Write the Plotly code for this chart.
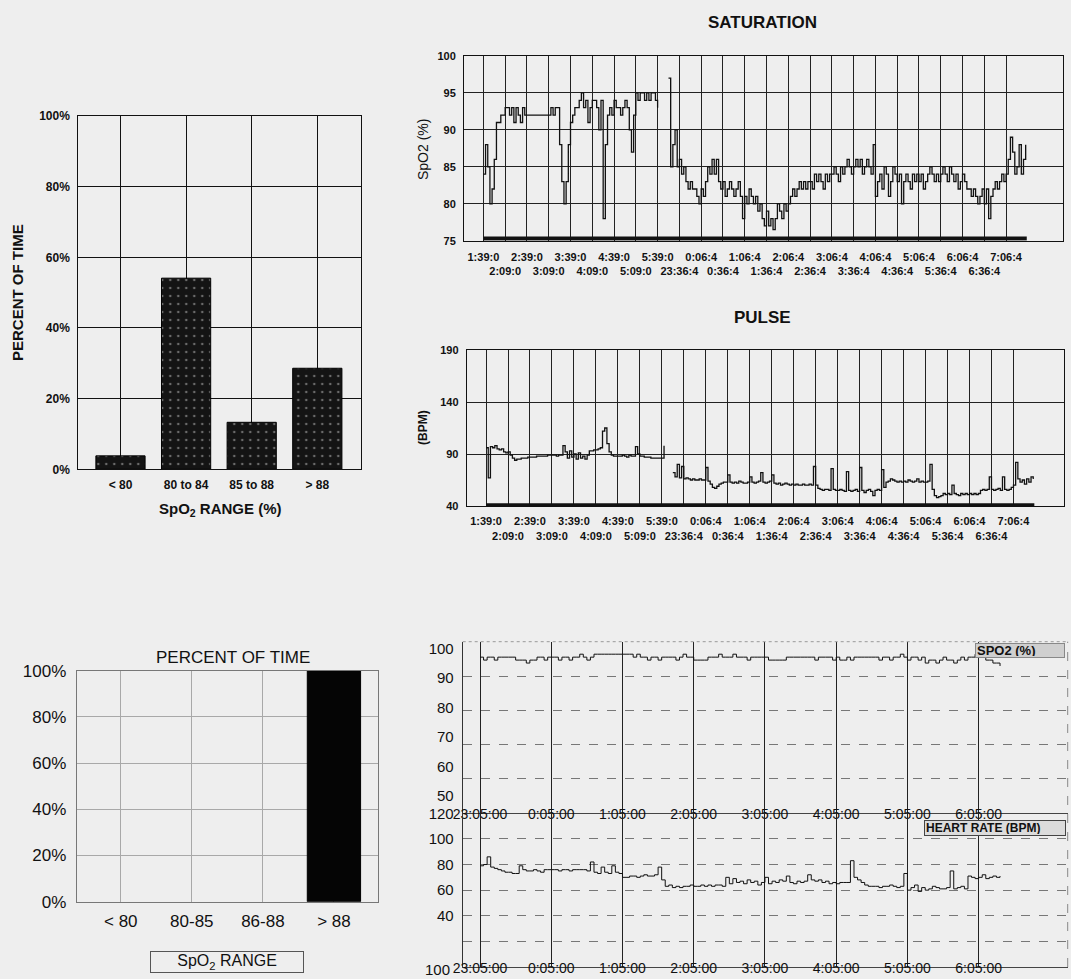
import numpy as np
import plotly.graph_objects as go

W, H = 1071, 979
FONT = "Liberation Sans, Arial, sans-serif"

# ---------------- data ----------------
top_categories = ["< 80", "80 to 84", "85 to 88", "> 88"]
top_percent = [3.8, 54.1, 13.3, 28.6]

bottom_categories = ["< 80", "80-85", "86-88", "> 88"]
bottom_percent = [0, 0, 0, 100]

percent_ticks = [0, 20, 40, 60, 80, 100]
percent_labels = ["0%", "20%", "40%", "60%", "80%", "100%"]

trend_time_labels = ["1:39:0", "2:09:0", "2:39:0", "3:09:0", "3:39:0", "4:09:0", "4:39:0",
                     "5:09:0", "5:39:0", "23:36:4", "0:06:4", "0:36:4", "1:06:4", "1:36:4",
                     "2:06:4", "2:36:4", "3:06:4", "3:36:4", "4:06:4", "4:36:4", "5:06:4",
                     "5:36:4", "6:06:4", "6:36:4", "7:06:4"]

# samples every 3 min (0.1 of a 30-min tick interval)
saturation_spo2 = [
    84, 88, 85, 80, 82, 86, 91, 91, 92, 92,
    93, 93, 92, 93, 91, 93, 92, 91, 93, 92,
    92, 92, 92, 92, 92, 92, 92, 92, 92, 92,
    92, 93, 92, 93, 93, 88, 83, 80, 83, 88,
    91, 92, 93, 93, 94, 95, 93, 94, 91, 93,
    94, 94, 93, 90, 94, 78, 88, 92, 93, 92,
    94, 93, 93, 92, 93, 94, 93, 90, 87, 92,
    95, 94, 95, 95, 94, 95, 94, 95, 95, 94,
    93, None, None, None, None, 97, 85, 88, 90, 85,
    86, 84, 85, 83, 82, 83, 82, 82, 81, 80,
    82, 81, 83, 85, 84, 86, 84, 86, 83, 82,
    83, 81, 82, 83, 82, 81, 82, 83, 81, 78,
    81, 80, 82, 81, 80, 81, 79, 80, 78, 77,
    79, 77, 78, 76.5, 78, 80, 79, 78, 80, 79,
    80, 81, 82, 81, 82, 83, 82, 83, 82, 83,
    83, 82, 84, 83, 84, 83, 82, 84, 83, 84,
    84, 85, 84, 83, 85, 84, 85, 86, 85, 84,
    85, 86, 85, 86, 84, 85, 86, 85, 84, 88,
    81, 83, 84, 82, 85, 84, 81, 83, 85, 84,
    83, 84, 80, 83, 84, 83, 82, 84, 83, 84,
    83, 84, 82, 83, 84, 85, 84, 83, 84, 83,
    84, 85, 84, 83, 85, 84, 83, 84, 82, 83,
    84, 83, 82, 82, 81, 82, 81, 80, 81, 82,
    80, 82, 78, 81, 82, 83, 82, 83, 84, 83,
    84, 86, 89, 87, 84, 85, 88, 84, 86, 88,
]

pulse_bpm = [
    96, 67, 97, 96, 98, 95, 94, 95, 92, 91,
    92, 89, 86, 84, 85, 85, 86, 86, 86, 87,
    87, 87, 87, 88, 88, 88, 88, 88, 89, 89,
    89, 89, 88, 89, 89, 98, 92, 86, 93, 87,
    90, 85, 91, 86, 88, 85, 89, 93, 93, 94,
    94, 95, 96, 112, 115, 100, 92, 89, 88, 88,
    88, 88, 89, 88, 87, 89, 88, 88, 97, 90,
    88, 88, 87, 87, 87, 86, 86, 86, 86, 86,
    86, 98, None, None, None, 72, 68, 80, 67, 78,
    66, 67, 66, 65, 66, 65, 65, 66, 65, 65,
    77, 64, 61, 58, 57, 59, 61, 62, 63, 63,
    70, 63, 62, 63, 62, 64, 63, 62, 62, 63,
    68, 63, 62, 63, 64, 72, 63, 62, 63, 64,
    70, 62, 61, 62, 60, 61, 62, 61, 60, 61,
    60, 61, 60, 60, 61, 60, 60, 61, 60, 78,
    60, 57, 56, 55, 56, 56, 55, 76, 56, 55,
    55, 56, 55, 54, 73, 55, 54, 55, 56, 54,
    77, 55, 53, 55, 56, 54, 50, 55, 56, 55,
    75, 58, 63, 64, 66, 65, 64, 63, 64, 63,
    64, 63, 65, 64, 63, 64, 66, 63, 64, 63,
    63, 64, 80, 56, 50, 48, 49, 50, 52, 51,
    52, 51, 60, 52, 51, 50, 52, 51, 52, 51,
    52, 51, 52, 51, 52, 55, 56, 55, 56, 68,
    56, 55, 56, 57, 55, 68, 56, 55, 56, 58,
    60, 82, 66, 63, 65, 61, 66, 63, 68, 66,
]

recording_span = [0.0, 24.95]          # thick "monitoring" bar along the bottom
sat_bar_level = 75.3
pulse_bar_level = 40.8

overnight_labels = ["23:05:00", "0:05:00", "1:05:00", "2:05:00",
                    "3:05:00", "4:05:00", "5:05:00", "6:05:00"]

# samples every 3 min from 23:05
overnight_spo2 = [
    97, 96, 97, 97, 96, 97, 97, 97, 97, 97,
    96, 96, 96, 95, 96, 96, 97, 97, 96, 97,
    97, 97, 96, 97, 97, 96, 97, 97, 98, 97,
    96, 97, 98, 98, 98, 98, 98, 98, 98, 98,
    98, 98, 98, 97, 98, 97, 97, 96, 97, 97,
    96, 97, 97, 97, 97, 96, 97, 98, 97, 97,
    96, 96, 96, 96, 97, 97, 97, 98, 97, 97,
    97, 98, 97, 97, 97, 96, 97, 97, 97, 97,
    97, 96, 96, 96, 96, 96, 97, 97, 97, 97,
    97, 97, 97, 97, 96, 97, 97, 97, 97, 96,
    97, 96, 96, 97, 96, 97, 97, 97, 97, 97,
    97, 97, 96, 97, 97, 96, 97, 97, 98, 97,
    96, 97, 97, 96, 97, 95, 96, 96, 95, 96,
    97, 96, 96, 95, 96, 97, 96, 97, 97, 98,
    98, 97, 96, 96, 95, 95, 94,
]

overnight_hr = [
    79, 80, 86, 78, 77, 76, 75, 74, 74, 73,
    73, 79, 76, 75, 75, 76, 75, 74, 76, 76,
    76, 76, 75, 76, 76, 75, 76, 76, 76, 76,
    75, 82, 74, 73, 78, 74, 73, 79, 74, 73,
    70, 70, 71, 71, 70, 71, 72, 71, 71, 72,
    78, 68, 63, 64, 62, 63, 62, 63, 63, 64,
    63, 63, 64, 63, 64, 63, 64, 64, 63, 70,
    65, 69, 66, 67, 65, 68, 66, 67, 64, 66,
    70, 65, 67, 66, 68, 67, 71, 66, 65, 67,
    66, 67, 72, 68, 67, 68, 66, 67, 65, 66,
    65, 66, 66, 66, 83, 70, 68, 66, 64, 63,
    63, 63, 62, 63, 63, 64, 63, 62, 63, 73,
    60, 62, 64, 59, 62, 60, 61, 63, 62, 61,
    61, 62, 75, 61, 62, 63, 61, 71, 70, 69,
    70, 72, 69, 70, 71, 70, 71,
]

trend_x = np.arange(len(saturation_spo2)) * 0.1          # in 30-min tick units
pulse_x = np.arange(len(pulse_bpm)) * 0.1
overnight_x = np.arange(len(overnight_spo2)) * 0.05      # hours after 23:05
overnight_hr_x = np.arange(len(overnight_hr)) * 0.05


def xd(a, b):
    return [a / W, b / W]


def yd(top, bottom):
    return [1 - bottom / H, 1 - top / H]


trend_ticktext = [t if i % 2 == 0 else "<br>" + t for i, t in enumerate(trend_time_labels)]

fig = go.Figure()

# ---- top-left bar chart ----
fig.add_trace(go.Bar(
    x=top_categories, y=top_percent, xaxis="x", yaxis="y", width=0.75,
    marker=dict(color="#141414", line=dict(color="#000", width=1),
                pattern=dict(shape=".", fgcolor="#6a6a6a", bgcolor="#141414", size=8, solidity=0.08)),
    showlegend=False, hoverinfo="skip"))

# ---- saturation ----
fig.add_trace(go.Scatter(x=trend_x, y=saturation_spo2, xaxis="x2", yaxis="y2", mode="lines",
                         line=dict(color="#111", width=1.3, shape="hv"), connectgaps=False,
                         showlegend=False))
fig.add_trace(go.Scatter(x=recording_span, y=[sat_bar_level] * 2, xaxis="x2", yaxis="y2", mode="lines",
                         line=dict(color="#111", width=4), showlegend=False))

# ---- pulse ----
fig.add_trace(go.Scatter(x=pulse_x, y=pulse_bpm, xaxis="x3", yaxis="y3", mode="lines",
                         line=dict(color="#111", width=1.3, shape="hv"), connectgaps=False,
                         showlegend=False))
fig.add_trace(go.Scatter(x=recording_span, y=[pulse_bar_level] * 2, xaxis="x3", yaxis="y3", mode="lines",
                         line=dict(color="#111", width=4), showlegend=False))

# ---- bottom-left bar chart ----
fig.add_trace(go.Bar(x=bottom_categories, y=bottom_percent, xaxis="x4", yaxis="y4", width=0.75,
                     marker=dict(color="#050505",
                                 line=dict(color="#000", width=[0 if v == 0 else 1 for v in bottom_percent])),
                     showlegend=False))

# ---- overnight SpO2 ----
fig.add_trace(go.Scatter(x=overnight_x, y=overnight_spo2, xaxis="x5", yaxis="y5", mode="lines",
                         line=dict(color="#111", width=1, shape="hv"), showlegend=False))
fig.add_trace(go.Scatter(x=overnight_x, y=overnight_spo2, xaxis="x5", yaxis="y6", mode="lines",
                         line=dict(width=0), opacity=0, showlegend=False, hoverinfo="skip"))

# ---- overnight heart rate ----
fig.add_trace(go.Scatter(x=overnight_hr_x, y=overnight_hr, xaxis="x6", yaxis="y7", mode="lines",
                         line=dict(color="#111", width=1, shape="hv"), showlegend=False))

bold11 = dict(family=FONT, size=11, color="#111", weight="bold")
bold12 = dict(family=FONT, size=12, color="#111", weight="bold")
reg15 = dict(family=FONT, size=15, color="#111")

common = dict(automargin=False, tickangle=0, ticks="", zeroline=False)
frame_top = dict(showline=True, linecolor="#111", linewidth=1, mirror=True, **common)

fig.update_layout(
    template="none",
    width=W, height=H, autosize=False,
    margin=dict(l=0, r=0, t=0, b=0, pad=0),
    paper_bgcolor="#eeeeee", plot_bgcolor="#eeeeee",
    font=dict(family=FONT, color="#111"),
    bargap=0.25,
    xaxis=dict(domain=xd(78.3, 361), anchor="y", type="category", range=[-0.643, 3.666],
               showgrid=True, gridcolor="#111", gridwidth=1, tickfont=bold12, ticklabelstandoff=4,
               **frame_top),
    yaxis=dict(domain=yd(116, 469.3), anchor="x", range=[0, 100], tickvals=percent_ticks,
               ticktext=percent_labels, showgrid=True, gridcolor="#111", gridwidth=1, tickfont=bold12,
               ticklabelstandoff=5, **frame_top),
    xaxis2=dict(domain=xd(464, 1062.7), anchor="y2", range=[-0.89, 26.6],
                tickvals=list(range(len(trend_time_labels))), ticktext=trend_ticktext,
                showgrid=True, gridcolor="#222", gridwidth=1, tickfont=bold11, ticklabelstandoff=6,
                **frame_top),
    yaxis2=dict(domain=yd(56, 240.7), anchor="x2", range=[75, 100], tickvals=[75, 80, 85, 90, 95, 100],
                showgrid=True, gridcolor="#222", gridwidth=1, tickfont=bold11, ticklabelstandoff=5,
                **frame_top),
    xaxis3=dict(domain=xd(466.7, 1064), anchor="y3", range=[-0.88, 26.3],
                tickvals=list(range(len(trend_time_labels))), ticktext=trend_ticktext,
                showgrid=True, gridcolor="#222", gridwidth=1, tickfont=bold11, ticklabelstandoff=5,
                **frame_top),
    yaxis3=dict(domain=yd(350, 506), anchor="x3", range=[40, 190], tickvals=[40, 90, 140, 190],
                showgrid=True, gridcolor="#222", gridwidth=1, tickfont=bold11, ticklabelstandoff=5,
                **frame_top),
    xaxis4=dict(domain=xd(76.7, 378), anchor="y4", type="category", range=[-0.62, 3.62],
                showgrid=True, gridcolor="#a8a8a8", gridwidth=1, showline=True, linecolor="#777",
                mirror=True, tickfont=dict(family=FONT, size=17, color="#111"), ticklabelstandoff=4,
                **common),
    yaxis4=dict(domain=yd(670.7, 901.7), anchor="x4", range=[0, 100], tickvals=percent_ticks,
                ticktext=percent_labels, showgrid=True, gridcolor="#a8a8a8", gridwidth=1, showline=True,
                linecolor="#777", mirror=True, tickfont=dict(family=FONT, size=17, color="#111"),
                ticklabelstandoff=6, **common),
    xaxis5=dict(domain=xd(462.7, 1067.7), anchor="y5", range=[-0.243, 8.25],
                tickvals=list(range(len(overnight_labels))), ticktext=overnight_labels,
                showgrid=True, gridcolor="#222", gridwidth=1, showline=True, linecolor="#444",
                ticklabelstandoff=-12, tickfont=dict(family=FONT, size=14, color="#111"), **common),
    yaxis5=dict(domain=yd(641.7, 813.3), anchor="x5", range=[44.14, 102.23],
                tickvals=[50, 60, 70, 80, 90, 100], showgrid=False, showline=True, linecolor="#333",
                tickfont=reg15, ticklabelstandoff=5, **common),
    yaxis6=dict(overlaying="y5", anchor="x5", side="left", range=[50, 100], tickvals=[60, 70, 80, 90, 100],
                showticklabels=False, showgrid=True, gridcolor="#777", griddash="dash", gridwidth=1,
                showline=False, **common),
    xaxis6=dict(domain=xd(462.7, 1067.7), anchor="y7", range=[-0.243, 8.25],
                tickvals=list(range(len(overnight_labels))), ticktext=overnight_labels,
                showgrid=True, gridcolor="#222", gridwidth=1, showline=True, linecolor="#444",
                ticklabelstandoff=-12, tickfont=dict(family=FONT, size=14, color="#111"), **common),
    yaxis7=dict(domain=yd(813.3, 967), anchor="x6", range=[0, 120], tickvals=[20, 40, 60, 80, 100, 120],
                ticktext=["", "40", "60", "80", "100", "120"], showgrid=True, gridcolor="#777",
                griddash="dash", gridwidth=1, showline=True, linecolor="#333", tickfont=reg15,
                ticklabelstandoff=5, **common),
)

# right-hand dashed border and dotted top of the overnight panels
fig.update_layout(shapes=[
    dict(type="line", xref="x5 domain", yref="paper", x0=1, x1=1, y0=1 - 967 / H, y1=1 - 641.7 / H,
         line=dict(color="#888", width=1, dash="dash")),
    dict(type="line", xref="x5 domain", yref="y5 domain", x0=0, x1=1, y0=1, y1=1,
         line=dict(color="#999", width=1, dash="dot")),
])

ann = []


def A(text, x, y, size, bold=False, angle=0, **kw):
    f = dict(family=FONT, size=size, color="#111")
    if bold:
        f["weight"] = "bold"
    d = dict(text=text, x=x / W, y=1 - y / H, xref="paper", yref="paper", showarrow=False,
             font=f, textangle=angle, xanchor="center", yanchor="middle")
    d.update(kw)
    ann.append(d)


A("SATURATION", 762, 22, 17, True)
A("PULSE", 762, 317, 17, True)
A("SpO2 (%)", 423, 150, 14, False, -90)
A("(BPM)", 423, 428, 12, True, -90)
A("PERCENT OF TIME", 18, 293, 15, True, -90)
A("SpO<sub>2</sub> RANGE (%)", 220, 509, 15, True)
A("PERCENT OF TIME", 233, 657, 17)
A("SpO<sub>2</sub> RANGE", 227, 962, 16, bordercolor="#555", borderwidth=1, width=150, height=18,
  borderpad=1)
A("SPO2 (%)", 975, 650, 13, True, xanchor="left", bgcolor="#cfcfcf", bordercolor="#888",
  borderwidth=1, width=86, height=11, align="left", borderpad=1)
A("HEART RATE (BPM)", 924, 828, 12, True, xanchor="left", bgcolor="#dcdcdc", bordercolor="#444",
  borderwidth=1, width=138, height=12, align="left", borderpad=1)
A("100", 452, 969, 15, xanchor="right")

fig.update_layout(annotations=ann)

fig.write_html("out.html", config={"displayModeBar": False},
               post_script="document.body.style.margin='0';document.body.style.background='#eeeeee';")
